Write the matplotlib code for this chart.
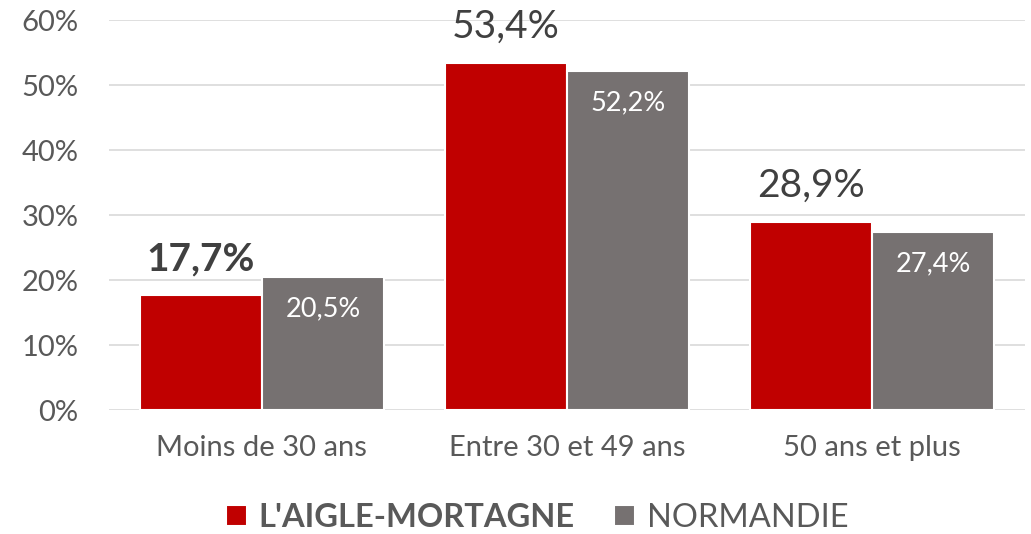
import numpy as np
import matplotlib.pyplot as plt

categories = ["Moins de 30 ans", "Entre 30 et 49 ans", "50 ans et plus"]
aigle = [17.7, 53.4, 28.9]
normandie = [20.5, 52.2, 27.4]
aigle_labels = ["17,7%", "53,4%", "28,9%"]
normandie_labels = ["20,5%", "52,2%", "27,4%"]
yticks = [0, 10, 20, 30, 40, 50, 60]

red = "#C00000"
grey = "#767171"
text_col = "#404040"

plt.rcParams['font.family'] = ['Lato', 'DejaVu Sans']

fig = plt.figure(figsize=(10.31, 5.34), dpi=100)
ax = fig.add_axes([0.106, 0.232, 0.888, 0.7305])

x = np.arange(len(categories))
w = 0.4
b1 = ax.bar(x - w / 2, aigle, w, color=red, edgecolor="white", linewidth=1.5,
            label="L'AIGLE-MORTAGNE", zorder=3)
b2 = ax.bar(x + w / 2, normandie, w, color=grey, edgecolor="white", linewidth=1.5,
            label="NORMANDIE", zorder=3)

ax.set_xlim(-0.5, 2.5)
ax.set_ylim(0, 60)
ax.set_yticks(yticks)
ax.set_yticklabels([f"{t}%" for t in yticks], fontsize=21, color="#595959")
ax.set_xticks(x)
ax.set_xticklabels(categories, fontsize=21, color="#595959")
ax.tick_params(length=0)
ax.tick_params(axis="y", pad=22)
ax.tick_params(axis="x", pad=18)
ax.grid(axis="y", color="#d9d9d9", linewidth=1.2, zorder=0)
for s in ax.spines.values():
    s.set_visible(False)

# labels on the red bars (above)
for i, (v, lab) in enumerate(zip(aigle, aigle_labels)):
    ax.annotate(lab, (x[i] - w / 2, v), xytext=(0, 26), textcoords="offset points",
                ha="center", va="center", fontsize=28, color=text_col,
                fontweight="bold" if i == 0 else "normal")

# labels inside the grey bars
for i, (v, lab) in enumerate(zip(normandie, normandie_labels)):
    ax.annotate(lab, (x[i] + w / 2, v), xytext=(0, -23), textcoords="offset points",
                ha="center", va="center", fontsize=19.5, color="white")

leg = fig.legend(handles=[b1, b2], loc="center", bbox_to_anchor=(0.521, 0.03),
                 ncol=2, frameon=False, fontsize=23.5, handlelength=0.65,
                 handleheight=0.65, handletextpad=0.35, columnspacing=1.2)
for t in leg.get_texts():
    t.set_color("#595959")
leg.get_texts()[0].set_fontweight("bold")

fig.savefig("out.png", dpi=100)
